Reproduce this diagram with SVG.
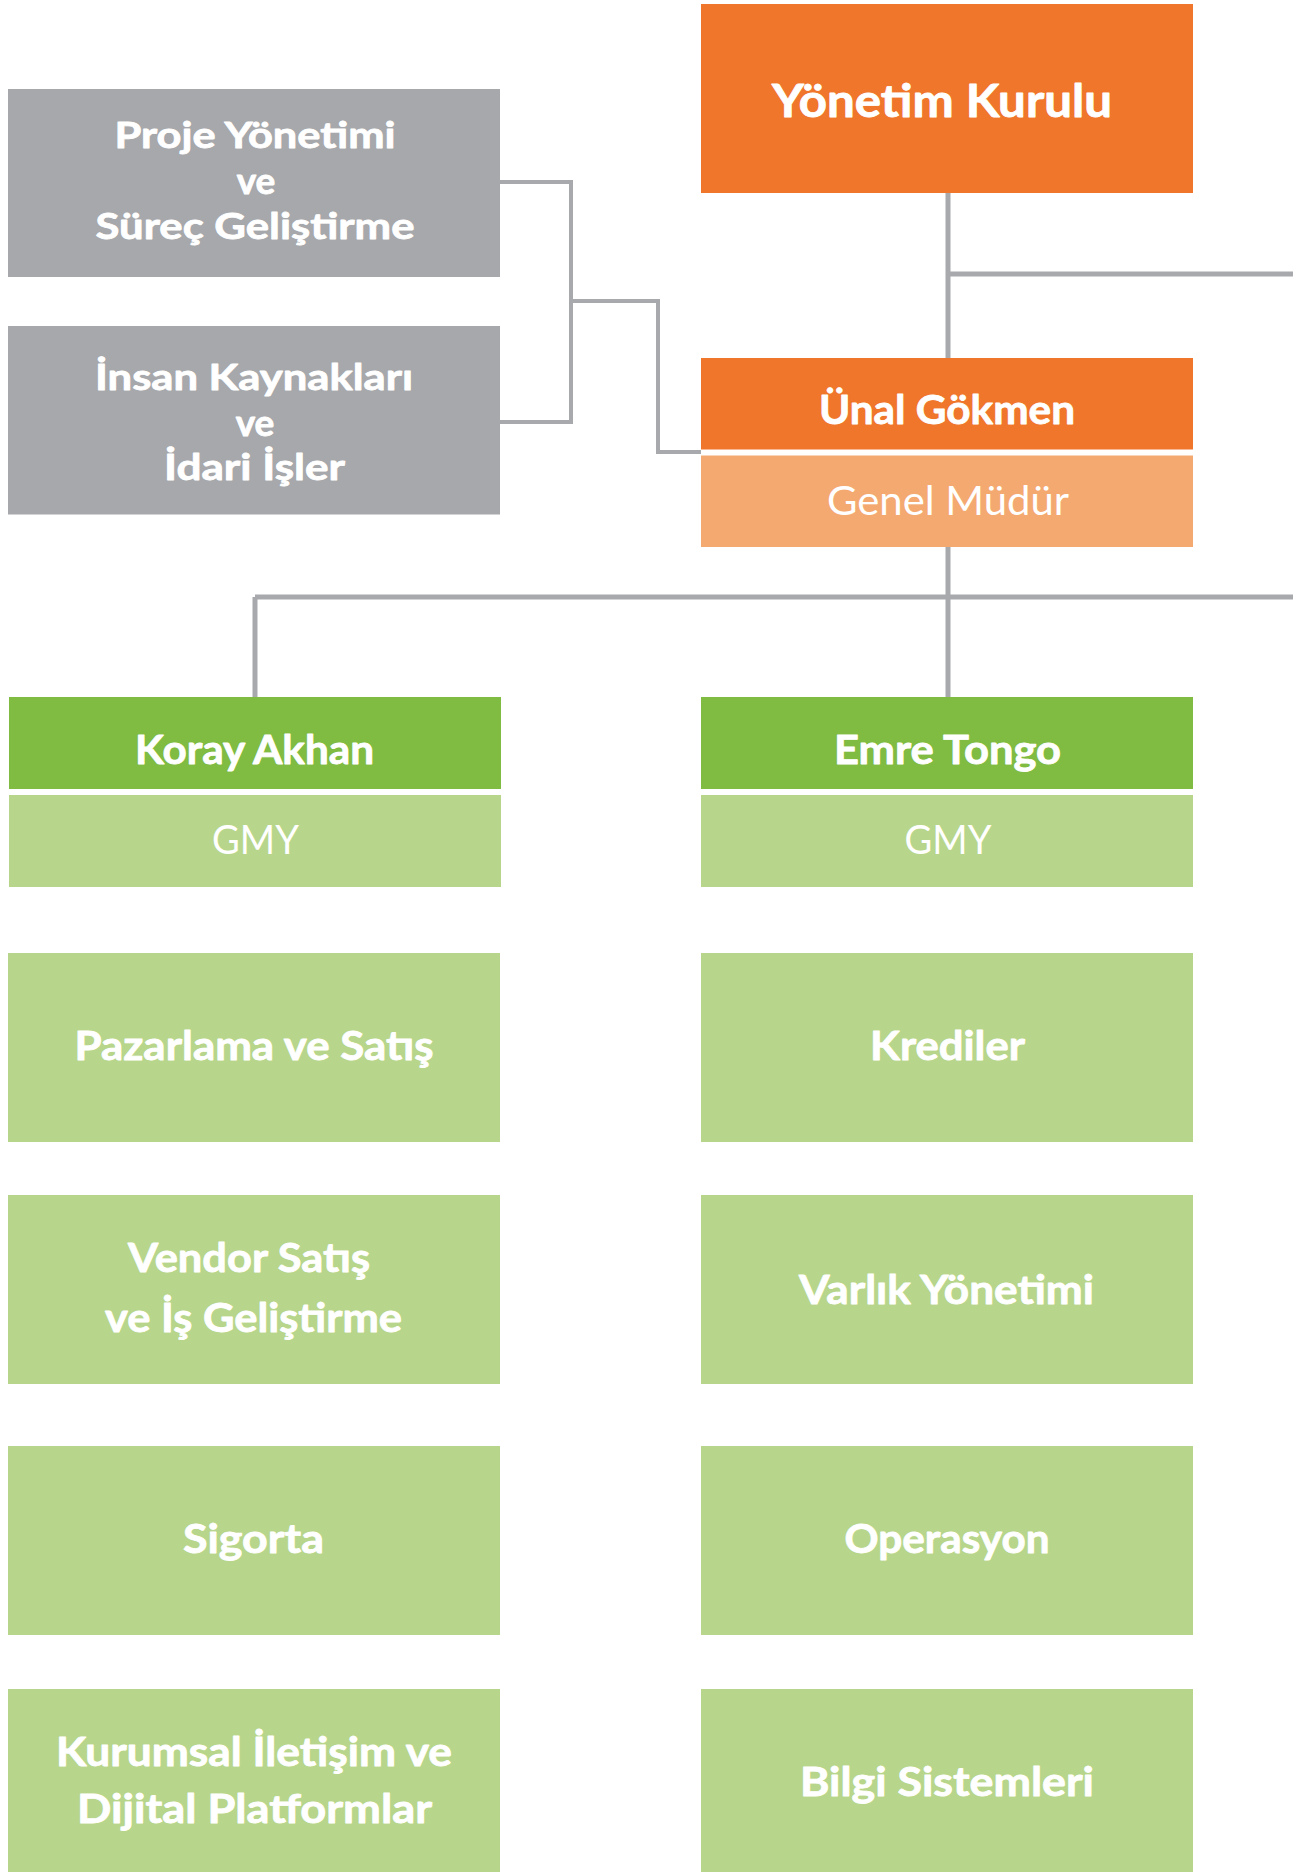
<svg xmlns="http://www.w3.org/2000/svg" width="1293" height="1872" viewBox="0 0 1293 1872">
<style>
.bg{fill:#ffffff}
.gray{fill:#a7a8ab}
.org{fill:#ef762a}
.lorg{fill:#f4a971}
.grn{fill:#80bb42}
.lgrn{fill:#b8d68b}
.b{font-family:Lato,"Noto Sans",sans-serif;font-weight:bold;fill:#ffffff;stroke:#ffffff;stroke-width:0.8;stroke-linejoin:round;text-anchor:middle}
.r{font-family:Lato,"Noto Sans",sans-serif;font-weight:normal;fill:#ffffff;text-anchor:middle}
.ln{fill:none;stroke:#a7a9ac;stroke-width:5}
.ln2{fill:none;stroke:#a7a9ac;stroke-width:4}
</style>
<rect class="bg" x="0" y="0" width="1293" height="1872"/>
<g id="connectors">
<path class="ln" d="M948 193 V358"/>
<path class="ln" d="M948 274 H1293"/>
<path class="ln" d="M948 547 V697"/>
<path class="ln" d="M255 597 H1293"/>
<path class="ln" d="M255 597 V697"/>
<path class="ln2" d="M500 182 H571 V422 H500"/>
<path class="ln2" d="M571 301 H658 V452 H701"/>
</g>
<g id="yonetim-kurulu">
<rect class="org" x="701" y="4" width="492" height="189"/>
<text class="b" x="942" y="117" font-size="45" textLength="340" lengthAdjust="spacingAndGlyphs">Yönetim Kurulu</text>
</g>
<g id="proje-yonetimi">
<rect class="gray" x="8" y="89" width="492" height="188"/>
<text class="b" x="255" y="148" font-size="37" textLength="281" lengthAdjust="spacingAndGlyphs">Proje Yönetimi</text>
<text class="b" x="256" y="194" font-size="37">ve</text>
<text class="b" x="255" y="238.5" font-size="37" textLength="319" lengthAdjust="spacingAndGlyphs">Süreç Geliştirme</text>
</g>
<g id="insan-kaynaklari">
<rect class="gray" x="8" y="326" width="492" height="188.5"/>
<text class="b" x="254" y="390" font-size="37" textLength="318" lengthAdjust="spacingAndGlyphs">İnsan Kaynakları</text>
<text class="b" x="255" y="435.5" font-size="37">ve</text>
<text class="b" x="254.5" y="480" font-size="37" textLength="181" lengthAdjust="spacingAndGlyphs">İdari İşler</text>
</g>
<g id="unal-gokmen">
<rect class="org" x="701" y="358" width="492" height="91.5"/>
<rect class="lorg" x="701" y="455.5" width="492" height="91.5"/>
<text class="b" x="947" y="424" font-size="41" textLength="256" lengthAdjust="spacingAndGlyphs">Ünal Gökmen</text>
<text class="r" x="948" y="514.5" font-size="40" textLength="242" lengthAdjust="spacingAndGlyphs">Genel Müdür</text>
</g>
<g id="koray-akhan">
<rect class="grn" x="9" y="697" width="492" height="92"/>
<rect class="lgrn" x="9" y="795" width="492" height="92"/>
<text class="b" x="254.5" y="764" font-size="41" textLength="239" lengthAdjust="spacingAndGlyphs">Koray Akhan</text>
<text class="r" x="255.5" y="854" font-size="40" textLength="87" lengthAdjust="spacingAndGlyphs">GMY</text>
</g>
<g id="emre-tongo">
<rect class="grn" x="701" y="697" width="492" height="92"/>
<rect class="lgrn" x="701" y="795" width="492" height="92"/>
<text class="b" x="947.5" y="764" font-size="41" textLength="227" lengthAdjust="spacingAndGlyphs">Emre Tongo</text>
<text class="r" x="948" y="854" font-size="40" textLength="87" lengthAdjust="spacingAndGlyphs">GMY</text>
</g>
<g id="pazarlama">
<rect class="lgrn" x="8" y="953" width="492" height="189"/>
<text class="b" x="254" y="1060" font-size="41" textLength="359" lengthAdjust="spacingAndGlyphs">Pazarlama ve Satış</text>
</g>
<g id="krediler">
<rect class="lgrn" x="701" y="953" width="492" height="189"/>
<text class="b" x="947.5" y="1060" font-size="41" textLength="155" lengthAdjust="spacingAndGlyphs">Krediler</text>
</g>
<g id="vendor">
<rect class="lgrn" x="8" y="1195" width="492" height="189"/>
<text class="b" x="249" y="1272" font-size="41" textLength="242" lengthAdjust="spacingAndGlyphs">Vendor Satış</text>
<text class="b" x="253.5" y="1331.5" font-size="41" textLength="297" lengthAdjust="spacingAndGlyphs">ve İş Geliştirme</text>
</g>
<g id="varlik">
<rect class="lgrn" x="701" y="1195" width="492" height="189"/>
<text class="b" x="946.5" y="1303.5" font-size="41" textLength="295" lengthAdjust="spacingAndGlyphs">Varlık Yönetimi</text>
</g>
<g id="sigorta">
<rect class="lgrn" x="8" y="1446" width="492" height="189"/>
<text class="b" x="253.5" y="1553" font-size="41" textLength="141" lengthAdjust="spacingAndGlyphs">Sigorta</text>
</g>
<g id="operasyon">
<rect class="lgrn" x="701" y="1446" width="492" height="189"/>
<text class="b" x="947" y="1553" font-size="41" textLength="205" lengthAdjust="spacingAndGlyphs">Operasyon</text>
</g>
<g id="kurumsal">
<rect class="lgrn" x="8" y="1689" width="492" height="183"/>
<text class="b" x="254" y="1766" font-size="41" textLength="396" lengthAdjust="spacingAndGlyphs">Kurumsal İletişim ve</text>
<text class="b" x="254.5" y="1823" font-size="41" textLength="355" lengthAdjust="spacingAndGlyphs">Dijital Platformlar</text>
</g>
<g id="bilgi">
<rect class="lgrn" x="701" y="1689" width="492" height="183"/>
<text class="b" x="947" y="1795.5" font-size="41" textLength="294" lengthAdjust="spacingAndGlyphs">Bilgi Sistemleri</text>
</g>
</svg>
